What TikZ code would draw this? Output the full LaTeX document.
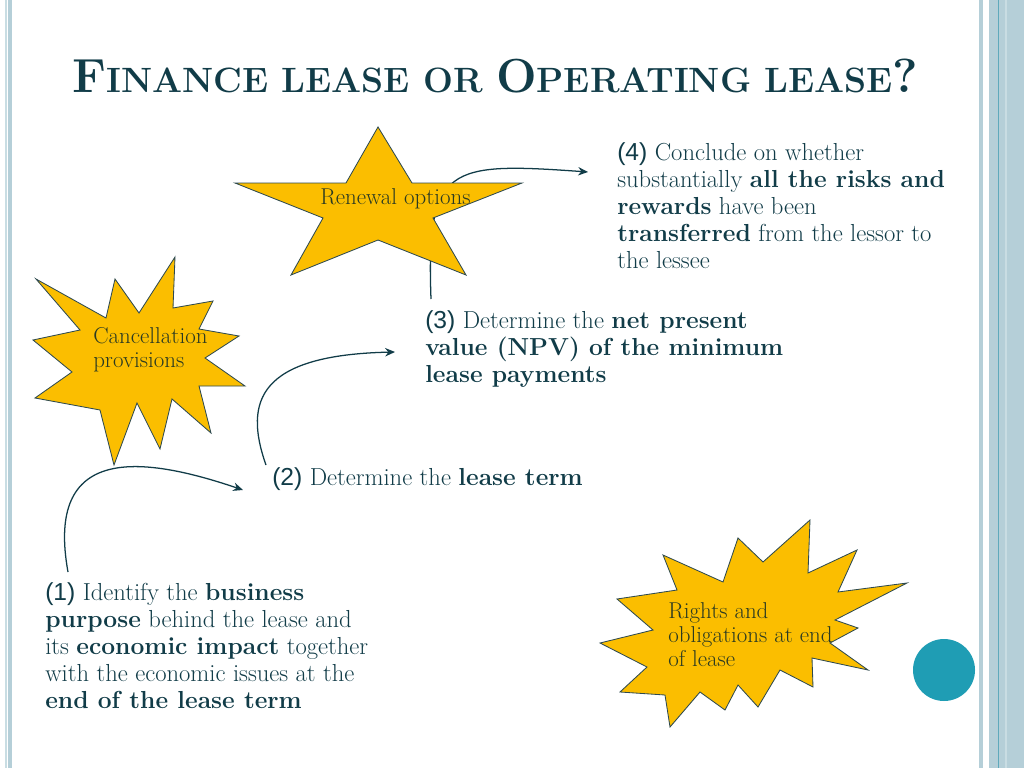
\documentclass[tikz,border=0pt]{standalone}
\usepackage{fontspec}
\usepackage{graphicx}
\newfontfamily\numfont{Liberation Sans}
\usetikzlibrary{arrows.meta}
\definecolor{ink}{HTML}{113C48}
\definecolor{gold}{HTML}{FBBE00}
\definecolor{starline}{HTML}{2E4A50}
\definecolor{startxt}{HTML}{2A3A22}
\definecolor{band}{HTML}{B5CFD8}
\definecolor{bandlt}{HTML}{C9DDE3}
\definecolor{tealdot}{HTML}{1F9DB4}
\definecolor{tealline}{HTML}{5FA9BB}
\newcommand{\wideface}{\addfontfeatures{FakeStretch=1.12}}
\newcommand{\widestar}{\addfontfeatures{FakeStretch=1.1}}
\tikzset{
  body/.style={anchor=north west, inner sep=0pt, align=left, text=ink,
    font=\fontsize{17.5pt}{19.2pt}\selectfont\wideface},
  startext/.style={anchor=north west, inner sep=0pt, align=left, text=startxt,
    font=\fontsize{16.3pt}{17pt}\selectfont\widestar},
  starshape/.style={fill=gold, draw=starline, line width=0.6pt, line join=miter},
  link/.style={draw=ink, line width=0.9pt, -{Stealth[length=7pt,width=6pt]}},
}
\newcommand{\tbig}[1]{{\fontsize{34pt}{40pt}\selectfont #1}}
\newcommand{\tsmall}[1]{{\fontsize{25pt}{30pt}\selectfont #1}}
\begin{document}
\begin{tikzpicture}[x=0.025cm,y=-0.025cm]
\useasboundingbox (0,0) rectangle (1024,768);
\fill[white] (0,0) rectangle (1024,768);
% borders
\fill[bandlt] (5,0) rectangle (7,768);
\fill[band] (7.5,0) rectangle (12,768);
\fill[band] (979,0) rectangle (983,768);
\fill[band] (989,0) rectangle (1024,768);
\fill[tealline] (997.5,0) rectangle (999,768);
\fill[bandlt] (1005,0) rectangle (1007,768);

% title
\node[anchor=base west, inner sep=0pt, text=ink, font=\bfseries] (title) at (72,93)
  {\resizebox{21.15cm}{\height}{\tbig{F}\tsmall{INANCE LEASE OR }\tbig{O}\tsmall{PERATING LEASE}\tbig{?}}};

% text nodes
\node[body] (s4) at (617,142) {{\numfont(4)} Conclude on whether\\substantially \textbf{all the risks and}\\\textbf{rewards} have been\\\textbf{transferred} from the lessor to\\the lessee};
\node[body] (s3) at (425,310) {{\numfont(3)} Determine the \textbf{net present}\\\textbf{value (NPV) of the minimum}\\\textbf{lease payments}};
\node[body] (s2) at (272,467) {{\numfont(2)} Determine the \textbf{lease term}};
\node[body] (s1) at (45,582) {{\numfont(1)} Identify the \textbf{business}\\\textbf{purpose} behind the lease and\\its \textbf{economic impact} together\\with the economic issues at the\\\textbf{end of the lease term}};

% connectors
\coordinate (s1top) at (68,572);
\coordinate (s2in) at (243,490);
\coordinate (s2top) at (266,465);
\coordinate (s3in) at (395,352);
\coordinate (s3top) at (431,299);
\coordinate (s4in) at (588,172);
\draw[link] (s1top) .. controls (45,445) and (140,455) .. (s2in);
\draw[link] (s2top) .. controls (243,400) and (260,355) .. (s3in);
\draw[link] (s3top) .. controls (426,165) and (448,162) .. (s4in);

% renewal star
\path[starshape] (378,127) -- (412,183) -- (522,183) -- (433,218) -- (466,275) -- (378,240) -- (291,275) -- (323,218) -- (235,183) -- (346,183) -- cycle;
\node[startext] (renew) at (320,188) {Renewal options};

% cancellation starburst
\path[starshape] (36,279) -- (106,318) -- (115,279) -- (139,313) -- (175,257) -- (173,308) -- (213,301) -- (199,329) -- (239,336) -- (205,358) -- (245,386) -- (199,386) -- (211,433) -- (172,399) -- (160,449) -- (137,403) -- (114,465) -- (100,410) -- (35,398) -- (72,372) -- (33,340) -- (80,330) -- cycle;
\node[startext] (cancel) at (93,327) {Cancellation\\provisions};

% rights starburst
\path[starshape] (663,555) -- (723,582) -- (738,538) -- (763,562) -- (810,520) -- (808,573) -- (857,550) -- (838,592) -- (907,583) -- (835,620) -- (858,628) -- (830,643) -- (868,670) -- (812,658) -- (813,687) -- (780,670) -- (758,707) -- (738,685) -- (725,710) -- (700,692) -- (670,727) -- (665,695) -- (620,692) -- (647,667) -- (600,643) -- (653,630) -- (617,599) -- (677,590) -- cycle;
\node[startext] (rights) at (668,602) {Rights and\\obligations at end\\of lease};

% dot
\fill[tealdot] (944,670) circle (31);
\end{tikzpicture}
\end{document}
